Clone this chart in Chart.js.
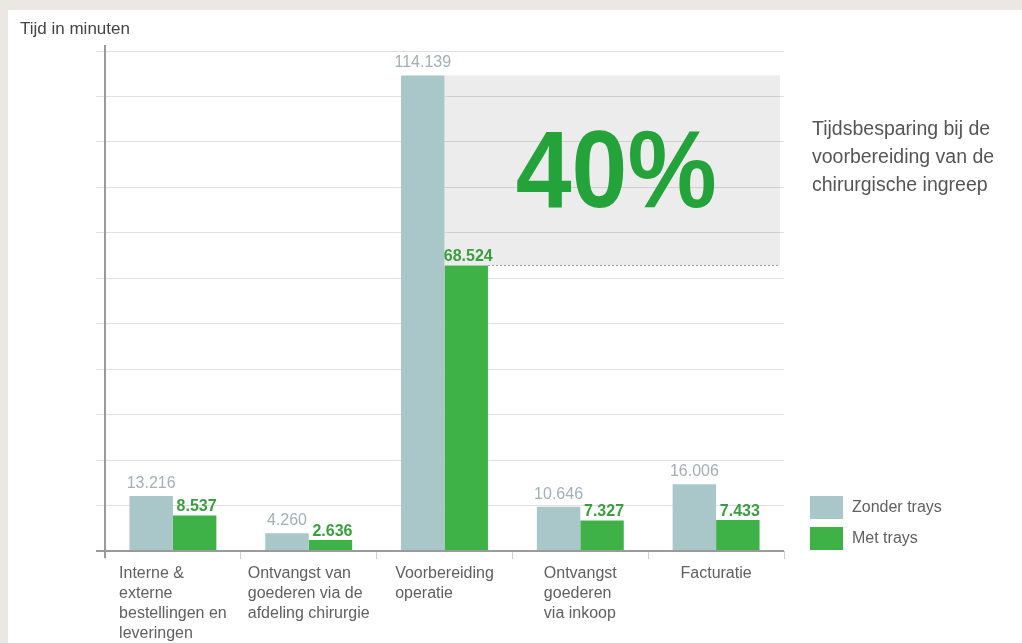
<!DOCTYPE html>
<html><head><meta charset="utf-8">
<script src="https://cdn.jsdelivr.net/npm/chart.js@4/dist/chart.umd.min.js"></script>
<style>html,body{margin:0;padding:0;background:#ebe7e2;overflow:hidden}#wrap{position:absolute;left:0;top:0;width:1022px;height:643px}</style>
</head><body><div id="wrap"><canvas id="c" width="1022" height="643"></canvas></div>
<script>
const categories = [["Interne &","externe","bestellingen en","leveringen"],["Ontvangst van","goederen via de","afdeling chirurgie"],["Voorbereiding","operatie"],["Ontvangst","goederen","via inkoop"],["Facturatie"]];
const seriesNames = ["Zonder trays","Met trays"];
const zonderTrays = [13.216, 4.260, 114.139, 10.646, 16.006];
const metTrays = [8.537, 2.636, 68.524, 7.327, 7.433];
const yMax = 120;
const yTickCount = 12;
const savingLabel = "40%";
const savingText = ["Tijdsbesparing bij de","voorbereiding van de","chirurgische ingreep"];
const axisTitle = "Tijd in minuten";
const highlightIndex = 2;

const FONT = "'Liberation Sans', Arial, Helvetica, sans-serif";
const colGray = '#a9c6c8', colGreen = '#3eb247';

const deco = {
  id: 'deco',
  beforeDraw(chart) {
    const ctx = chart.ctx;
    ctx.save();
    ctx.fillStyle = '#ebe7e2';
    ctx.fillRect(0, 0, chart.width, chart.height);
    ctx.fillStyle = '#ffffff';
    ctx.fillRect(8, 10, chart.width - 8, chart.height - 10);
    ctx.restore();
  },
  beforeDatasetsDraw(chart) {
    const ctx = chart.ctx, a = chart.chartArea;
    const g = chart.getDatasetMeta(0).data[highlightIndex];
    const m = chart.getDatasetMeta(1).data[highlightIndex];
    const x0 = g.x + g.width / 2, x1 = a.right - 4;
    ctx.save();
    ctx.fillStyle = 'rgba(0,0,0,0.075)';
    ctx.fillRect(x0, g.y, x1 - x0, m.y - g.y);
    ctx.restore();
  },
  afterDatasetsDraw(chart) {
    const ctx = chart.ctx, a = chart.chartArea;
    const xs = chart.scales.x;
    ctx.save();
    // axis lines
    ctx.strokeStyle = '#9a9a9a';
    ctx.lineWidth = 2;
    ctx.beginPath();
    ctx.moveTo(a.left, a.top - 6); ctx.lineTo(a.left, a.bottom + 7);
    ctx.moveTo(a.left - 9, a.bottom); ctx.lineTo(a.right, a.bottom);
    ctx.stroke();

    // value labels
    ctx.textAlign = 'center';
    ctx.textBaseline = 'alphabetic';
    chart.getDatasetMeta(0).data.forEach((b, i) => {
      ctx.font = '16px ' + FONT;
      ctx.fillStyle = '#a3b0b3';
      ctx.fillText(zonderTrays[i].toFixed(3), b.x, b.y - 8);
    });
    chart.getDatasetMeta(1).data.forEach((b, i) => {
      ctx.font = 'bold 16px ' + FONT;
      ctx.fillStyle = '#3a9e3f';
      ctx.fillText(metTrays[i].toFixed(3), b.x + 2, b.y - 4);
    });

    // highlight box: dotted line + big label
    const g = chart.getDatasetMeta(0).data[highlightIndex];
    const m = chart.getDatasetMeta(1).data[highlightIndex];
    const x0 = g.x + g.width / 2, x1 = a.right - 4;
    ctx.strokeStyle = '#9c9c9c';
    ctx.lineWidth = 1;
    ctx.setLineDash([2, 2]);
    ctx.beginPath();
    ctx.moveTo(m.x + m.width / 2, Math.round(m.y) + 0.5);
    ctx.lineTo(x1, Math.round(m.y) + 0.5);
    ctx.stroke();
    ctx.setLineDash([]);
    const size = 108;
    const cx = (x0 + x1) / 2 + 4, cy = (g.y + m.y) / 2 - 2;
    ctx.save();
    ctx.translate(cx, cy + 0.358 * size);
    ctx.scale(0.93, 1.02);
    ctx.font = 'bold ' + size + 'px ' + FONT;
    ctx.fillStyle = '#25a33b';
    ctx.textAlign = 'center';
    ctx.fillText(savingLabel, 0, 0);
    ctx.restore();

    // side text
    ctx.font = '19.5px ' + FONT;
    ctx.fillStyle = '#555555';
    ctx.textAlign = 'left';
    ctx.textBaseline = 'middle';
    savingText.forEach((t, i) => ctx.fillText(t, a.right + 28, 130 + i * 28));

    // legend
    const legendColors = [colGray, colGreen];
    seriesNames.forEach((n, i) => {
      const y = 496 + i * 31;
      ctx.fillStyle = legendColors[i];
      ctx.fillRect(a.right + 26, y, 33, 23);
      ctx.fillStyle = '#606060';
      ctx.font = '16px ' + FONT;
      ctx.fillText(n, a.right + 68, y + 12);
    });

    // category labels (left-aligned block centred on category)
    ctx.font = '16px ' + FONT;
    ctx.fillStyle = '#606060';
    categories.forEach((lines, i) => {
      const c = xs.getPixelForValue(i);
      const w = Math.max(...lines.map(l => ctx.measureText(l).width));
      lines.forEach((l, j) => ctx.fillText(l, c - w / 2, a.bottom + 23 + j * 20));
    });

    // axis title
    ctx.font = '17px ' + FONT;
    ctx.fillStyle = '#444444';
    ctx.textBaseline = 'alphabetic';
    ctx.fillText(axisTitle, 20, 34);
    ctx.restore();
  }
};

new Chart(document.getElementById('c'), {
  type: 'bar',
  data: {
    labels: categories,
    datasets: [
      { label: seriesNames[0], data: zonderTrays, backgroundColor: colGray, categoryPercentage: 0.64, barPercentage: 1.0 },
      { label: seriesNames[1], data: metTrays, backgroundColor: colGreen, categoryPercentage: 0.64, barPercentage: 1.0 }
    ]
  },
  options: {
    responsive: false,
    devicePixelRatio: 1,
    animation: false,
    layout: { padding: { top: 51, right: 238, left: 0, bottom: 0 } },
    plugins: { legend: { display: false }, title: { display: false }, tooltip: { enabled: false } },
    scales: {
      x: {
        grid: { display: true, drawOnChartArea: false, offset: true, tickLength: 8, color: '#cfcfcf' },
        border: { display: false },
        ticks: { display: false },
        afterFit: s => { s.height = 92; }
      },
      y: {
        min: 0, max: yMax,
        ticks: { display: false, count: yTickCount },
        grid: { color: '#e0e0e0', tickLength: 9, drawTicks: true },
        border: { display: false },
        afterFit: s => { s.width = 105; }
      }
    }
  },
  plugins: [deco]
});
</script>
</body></html>
